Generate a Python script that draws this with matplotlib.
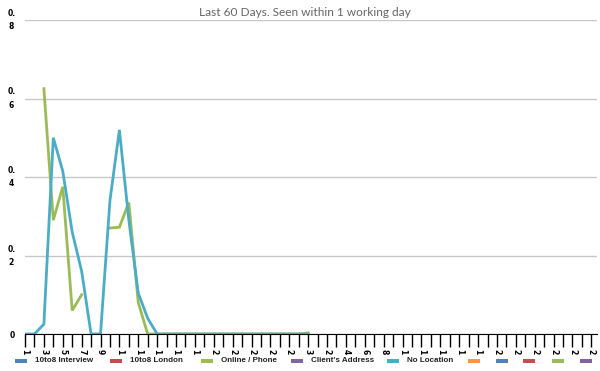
import numpy as np
import matplotlib
matplotlib.use("Agg")
import matplotlib.pyplot as plt
import matplotlib.transforms as mtrans
from matplotlib.patches import Rectangle

nan = np.nan

# days on the x axis: 31 days, then a 28 day month, then 2 more days
days = list(range(1, 32)) + list(range(1, 29)) + [1, 2]

no_location = [0, 0, 0.025, 0.50, 0.415, 0.26, 0.16, 0, 0, 0.34,
               0.52, 0.29, 0.104, 0.04, 0, 0, 0, 0, 0, 0,
               0, 0, 0, 0, 0, 0, 0, 0, 0, 0,
               0] + [nan] * 30
online_phone = [nan, nan, 0.625, 0.29, 0.375, 0.06, 0.10, nan, nan, 0.27,
                0.272, 0.335, 0.08, 0, 0, 0, 0, 0, 0, 0,
                0, 0, 0, 0, 0, 0, 0, 0, 0, 0,
                0.003] + [nan] * 30

legend_names = ["10to8 Interview", "10to8 London", "Online / Phone",
                "Client's Address", "No Location", "", "", "", "", ""]
legend_colors = ["#4f81bd", "#c0504d", "#9bbb59", "#8064a2", "#4bacc6",
                 "#f79646", "#4f81bd", "#c0504d", "#9bbb59", "#8064a2"]
legend_x = [15, 110, 201, 291, 387, 468, 496, 523, 552, 580]

W, H = 600, 371
fig = plt.figure(figsize=(W / 100, H / 100), dpi=100)
ax = fig.add_axes([25 / W, 1 - 334 / H, (597 - 25) / W, (334 - 20) / H])

x = np.arange(len(days))
ax.plot(x, online_phone, color="#9bbb59", lw=2.0, solid_joinstyle="miter")
ax.plot(x, no_location, color="#4bacc6", lw=2.0, solid_joinstyle="miter")

ax.set_xlim(0, 60.6)
ax.set_ylim(0, 0.8)

ax.set_yticks([0, 0.2, 0.4, 0.6, 0.8])
ax.set_yticklabels(["0", "0.\n2", "0.\n4", "0.\n6", "0.\n8"],
                   fontsize=5.5, fontweight="bold", linespacing=1.6,
                   multialignment="center")
ax.tick_params(axis="y", length=0, pad=7)
# nudge the wrapped labels up a little
shift = mtrans.ScaledTranslation(0, 0.03, fig.dpi_scale_trans)
for lab in ax.get_yticklabels()[1:]:
    lab.set_transform(lab.get_transform() + shift)
ax.grid(axis="y", color="#c8c8c8", lw=1)
ax.set_axisbelow(True)

ax.set_xticks(x)
ax.set_xticklabels([str(d)[0] if i % 2 == 0 else "" for i, d in enumerate(days)],
                   rotation=-90, fontsize=5.5, fontweight="bold")
ax.tick_params(axis="x", length=9, width=1, color="black", pad=2)

for s in ["left", "right", "top"]:
    ax.spines[s].set_visible(False)
ax.spines["bottom"].set_color("black")

fig.text(305 / W, 1 - 13 / H, "Last 60 Days. Seen within 1 working day",
         ha="center", va="center", color="#666666", fontsize=8.6, family="Lato")

# legend row along the bottom
for name, col, lx in zip(legend_names, legend_colors, legend_x):
    fig.add_artist(Rectangle((lx / W, 1 - 363 / H), 12 / W, 4 / H,
                             transform=fig.transFigure, color=col, lw=0))
    if name:
        fig.text((lx + 20) / W, 1 - 361 / H, name, ha="left", va="center",
                 fontsize=5.8, fontweight="bold", family="Liberation Sans",
                 color="#222222")

fig.savefig("out.png", dpi=100)
